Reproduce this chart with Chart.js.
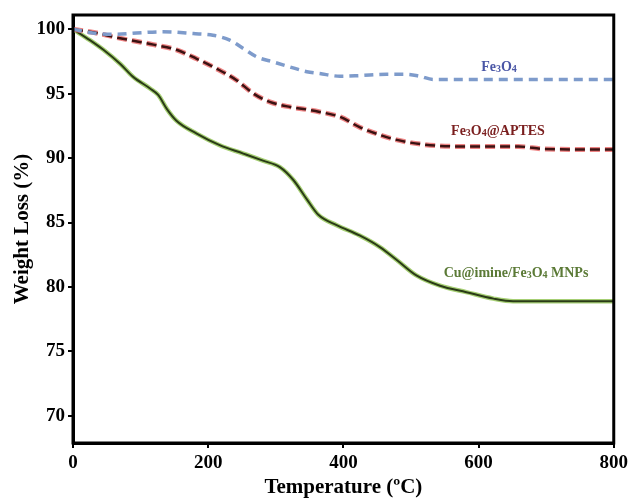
<html><head>
<meta charset="UTF-8">
<title>TGA curves</title>
<script src="https://cdn.jsdelivr.net/npm/chart.js"></script>
<style>
  html, body { margin: 0; padding: 0; background: #fff; }
  #wrap { width: 632px; height: 500px; }
</style>
</head>
<body>
<div id="wrap"><canvas id="tga"></canvas></div>
<script>
// temperatures (ºC) and weight (%)
const feTemp   = [0, 35, 65, 94, 133, 178, 207, 232, 252, 272, 296, 321, 346, 365, 395, 424, 464, 493, 513, 533, 572, 650, 720, 800];
const feWeight = [100, 99.66, 99.6, 99.7, 99.8, 99.66, 99.53, 99.15, 98.5, 97.85, 97.46, 97.07, 96.7, 96.56, 96.35, 96.4, 96.5, 96.5, 96.35, 96.1, 96.1, 96.1, 96.1, 96.1];

const aptTemp   = [0, 35, 60, 89, 119, 153, 183, 212, 242, 267, 291, 321, 346, 365, 395, 424, 454, 472, 516, 575, 659, 698, 800];
const aptWeight = [100, 99.7, 99.4, 99.1, 98.8, 98.4, 97.7, 96.95, 96.04, 95.0, 94.36, 93.97, 93.77, 93.58, 93.2, 92.4, 91.8, 91.5, 91.07, 90.9, 90.9, 90.7, 90.66];

const cuTemp   = [0, 25, 45, 70, 89, 114, 126, 139, 153, 183, 217, 252, 281, 306, 326, 346, 363, 390, 424, 454, 479, 508, 543, 582, 622, 651, 800];
const cuWeight = [100, 99.15, 98.4, 97.3, 96.3, 95.4, 94.9, 93.8, 92.9, 91.9, 91.0, 90.35, 89.8, 89.3, 88.3, 86.8, 85.6, 84.8, 84.0, 83.1, 82.1, 80.9, 80.1, 79.6, 79.1, 78.9, 78.9];

const xTicks = [0, 200, 400, 600, 800];
const yTicks = [70, 75, 80, 85, 90, 95, 100];

const serif = '"Liberation Serif", "Times New Roman", serif';

function pts(xs, ys) {
  return xs.map((x, i) => ({ x: x, y: ys[i] }));
}

// curve labels with subscripts: [text, isSub]
const curveLabels = [
  { parts: [['Fe', 0], ['3', 1], ['O', 0], ['4', 1]], x: 499, y: 71, color: '#4a56a6' },
  { parts: [['Fe', 0], ['3', 1], ['O', 0], ['4', 1], ['@APTES', 0]], x: 498, y: 135, color: '#7a1e1e' },
  { parts: [['Cu@imine/Fe', 0], ['3', 1], ['O', 0], ['4', 1], [' MNPs', 0]], x: 516, y: 277, color: '#5b7a36' }
];

const framePlugin = {
  id: 'frame',
  afterDatasetsDraw(chart) {
    const a = chart.chartArea, ctx = chart.ctx;
    ctx.save();
    ctx.strokeStyle = '#000';
    ctx.lineWidth = 3;
    ctx.strokeRect(a.left, a.top, a.right - a.left, a.bottom - a.top);
    ctx.restore();
  },
  afterDraw(chart) {
    const ctx = chart.ctx;
    ctx.save();
    ctx.textBaseline = 'alphabetic';
    curveLabels.forEach(l => {
      const big = 'bold 14px ' + serif, small = 'bold 10px ' + serif;
      let w = 0;
      l.parts.forEach(p => { ctx.font = p[1] ? small : big; w += ctx.measureText(p[0]).width; });
      let x = l.x - w / 2;
      ctx.fillStyle = l.color;
      l.parts.forEach(p => {
        ctx.font = p[1] ? small : big;
        ctx.fillText(p[0], x, l.y + (p[1] ? 1 : 0));
        x += ctx.measureText(p[0]).width;
      });
    });
    ctx.restore();
  }
};

// lower dataset index is painted on top, so the dark cores come first
new Chart(document.getElementById('tga'), {
  type: 'line',
  data: {
    datasets: [
      { data: pts(feTemp, feWeight), borderColor: '#7e9bcb', borderWidth: 3.5, borderDash: [9, 6] },
      { data: pts(aptTemp, aptWeight), borderColor: '#3b1212', borderWidth: 2.5, borderDash: [10, 5] },
      { data: pts(aptTemp, aptWeight), borderColor: 'rgba(235,110,110,0.85)', borderWidth: 5, borderDash: [10, 5] },
      { data: pts(cuTemp, cuWeight), borderColor: '#2a3b17', borderWidth: 2 },
      { data: pts(cuTemp, cuWeight), borderColor: '#a6cf74', borderWidth: 4.5 }
    ]
  },
  options: {
    responsive: true,
    maintainAspectRatio: false,
    animation: false,
    layout: { padding: { top: 15, right: 18, left: 0, bottom: 0 } },
    elements: {
      point: { radius: 0 },
      line: { cubicInterpolationMode: 'monotone', fill: false }
    },
    plugins: { legend: { display: false }, tooltip: { enabled: false } },
    scales: {
      x: {
        type: 'linear',
        min: 0, max: 800,
        afterBuildTicks: s => { s.ticks = xTicks.map(v => ({ value: v })); },
        afterFit: s => { s.height = 57; },
        grid: { drawOnChartArea: false, drawTicks: true, tickLength: 5, color: '#000', lineWidth: 2 },
        border: { display: true, color: '#000', width: 3 },
        ticks: { color: '#000', padding: 4, font: { family: serif, size: 19, weight: 'bold' } },
        title: { display: true, text: 'Temperature (ºC)', color: '#000', padding: { top: 0, bottom: 0 },
                 font: { family: serif, size: 21, weight: 'bold' } }
      },
      y: {
        min: 67.9, max: 101.1,
        afterBuildTicks: s => { s.ticks = yTicks.map(v => ({ value: v })); },
        afterFit: s => { s.width = 73; },
        grid: { drawOnChartArea: false, drawTicks: true, tickLength: 5, color: '#000', lineWidth: 2 },
        border: { display: true, color: '#000', width: 3 },
        ticks: { color: '#000', padding: 3, font: { family: serif, size: 19, weight: 'bold' } },
        title: { display: true, text: 'Weight Loss (%)', color: '#000', padding: { top: 10, bottom: 0 },
                 font: { family: serif, size: 21, weight: 'bold' } }
      }
    }
  },
  plugins: [framePlugin]
});
</script>
</body></html>
